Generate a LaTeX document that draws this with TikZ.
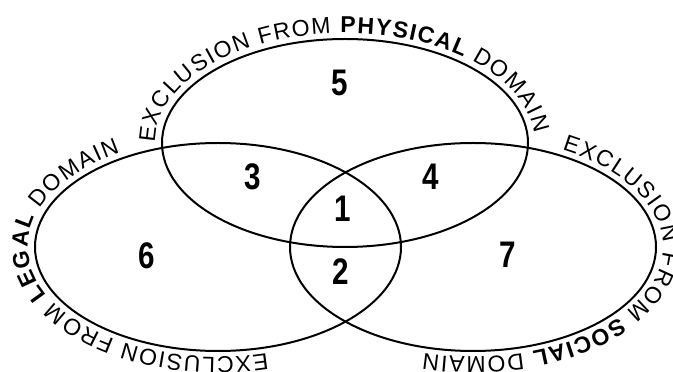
\documentclass[tikz,border=0pt]{standalone}
\usepackage{fontspec}
\setmainfont{Liberation Sans}
\newfontfamily\numfont{Liberation Sans}[FakeStretch=0.8]
\usetikzlibrary{decorations.text}
\newcommand\arcfont{\fontsize{23}{27}\selectfont}

\begin{document}
\begin{tikzpicture}[x=1pt, y=1pt,
    ring/.style={line width=2pt},
    region/.style={font=\numfont\bfseries\fontsize{37}{40}\selectfont},
    arctext/.style={decorate, decoration={text along path, text align=fit to path, text={#1}}}]

    \useasboundingbox (0,0) rectangle (673,372);

    % 定义三个椭圆的中心
    \coordinate (T) at (345,229);   % 上方椭圆 (physical)
    \coordinate (L) at (218,125);   % 左侧椭圆 (legal)
    \coordinate (R) at (473,125);   % 右侧椭圆 (social)

    % 1. 绘制三个椭圆
    \draw[ring] (T) ellipse [x radius=183pt, y radius=104pt];
    \draw[ring] (L) ellipse [x radius=183pt, y radius=104pt];
    \draw[ring] (R) ellipse [x radius=183pt, y radius=104pt];

    % 2. 沿椭圆外侧的文字
    \path[arctext={|\arcfont|EXCLUSION FROM |\arcfont\bfseries|PHYSICAL |\arcfont|DOMAIN}]
        (T) ++(180:190pt and 110pt) arc[start angle=180, end angle=5, x radius=190pt, y radius=110pt];
    \path[arctext={|\arcfont|EXCLUSION FROM |\arcfont\bfseries|LEGAL |\arcfont|DOMAIN}]
        (L) ++(285:190pt and 110pt) arc[start angle=285, end angle=121, x radius=190pt, y radius=110pt];
    \path[arctext={|\arcfont|EXCLUSION FROM |\arcfont\bfseries|SOCIAL |\arcfont|DOMAIN}]
        (R) ++(62:190pt and 110pt) arc[start angle=62, end angle=-105, x radius=190pt, y radius=110pt];

    % 3. 区域编号
    \node[region] (n5) at (340,289) {5};
    \node[region] (n3) at (253,195) {3};
    \node[region] (n4) at (431,195) {4};
    \node[region] (n1) at (343,163) {1};
    \node[region] (n2) at (341,100) {2};
    \node[region] (n6) at (147,116) {6};
    \node[region] (n7) at (508,117) {7};

\end{tikzpicture}
\end{document}
